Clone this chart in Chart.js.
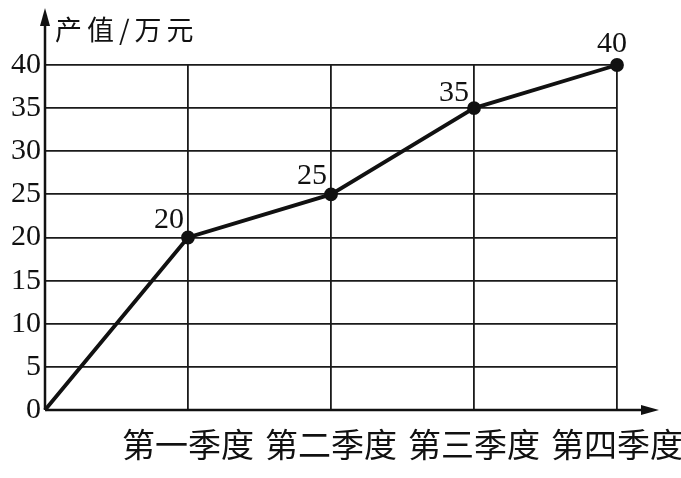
<!DOCTYPE html>
<html>
<head>
<meta charset="utf-8">
<script src="https://cdn.jsdelivr.net/npm/chart.js@4"></script>
<style>
  body { margin: 0; background: #fff; }
  #wrap { width: 681px; height: 478px; }
</style>
</head>
<body>
<div id="wrap"><canvas id="myChart" width="681" height="478"></canvas></div>
<script>
// data
var quarters = ["", "第一季度", "第二季度", "第三季度", "第四季度"];
var output = [0, 20, 25, 35, 40];
var yTicks = [0, 5, 10, 15, 20, 25, 30, 35, 40];
var yTitle = "产值/万元";

var serif = "'Liberation Serif', 'DejaVu Serif', serif";
var cjk = "'Noto Sans CJK SC', sans-serif";

// axes with arrows, title and value labels
var decor = {
  id: "decor",
  afterDatasetsDraw: function (chart) {
    var ctx = chart.ctx;
    var area = chart.chartArea;
    var x0 = area.left, y0 = area.bottom;
    ctx.save();
    ctx.strokeStyle = "#111";
    ctx.fillStyle = "#111";
    ctx.lineWidth = 2.5;
    ctx.beginPath();
    ctx.moveTo(x0, y0);
    ctx.lineTo(x0, 18);
    ctx.moveTo(x0, y0);
    ctx.lineTo(645, y0);
    ctx.stroke();
    // arrow heads
    ctx.beginPath();
    ctx.moveTo(x0, 8);
    ctx.lineTo(x0 - 5, 26);
    ctx.lineTo(x0 + 5, 26);
    ctx.closePath();
    ctx.fill();
    ctx.beginPath();
    ctx.moveTo(659, y0);
    ctx.lineTo(641, y0 - 5);
    ctx.lineTo(641, y0 + 5);
    ctx.closePath();
    ctx.fill();

    // title
    ctx.font = "27px " + cjk;
    ctx.letterSpacing = "5px";
    ctx.textAlign = "left";
    ctx.textBaseline = "middle";
    ctx.fillText(yTitle, 55, 30);
    ctx.letterSpacing = "0px";

    // value labels
    var meta = chart.getDatasetMeta(0);
    var offs = [null, [-19, -17], [-19, -18], [-20, -15], [-5, -21]];
    ctx.font = "30px " + serif;
    ctx.textAlign = "center";
    meta.data.forEach(function (pt, i) {
      if (!offs[i]) return;
      ctx.fillText(String(output[i]), pt.x + offs[i][0], pt.y + offs[i][1]);
    });
    ctx.restore();
  }
};

new Chart("myChart", {
  type: "line",
  data: {
    labels: quarters,
    datasets: [{
      data: output,
      borderColor: "#111",
      borderWidth: 3.8,
      backgroundColor: "#111",
      pointRadius: [0, 5, 5, 5, 5],
      pointBackgroundColor: "#111",
      tension: 0,
      clip: false
    }]
  },
  options: {
    responsive: false,
    animation: false,
    layout: { padding: { top: 65, right: 64, left: 0, bottom: 0 } },
    plugins: { legend: { display: false }, tooltip: { enabled: false } },
    scales: {
      x: {
        offset: false,
        border: { display: false },
        grid: { color: "#1a1a1a", lineWidth: 1.8, drawTicks: false },
        ticks: {
          color: "#111",
          padding: 15,
          maxRotation: 0,
          autoSkip: false,
          font: { family: cjk, size: 33 }
        },
        afterFit: function (s) {
          s.height = 68;
          s.paddingLeft = 0;
          s.paddingRight = 0;
        }
      },
      y: {
        min: 0,
        max: 40,
        border: { display: false },
        grid: { color: "#1a1a1a", lineWidth: 1.8, drawTicks: false },
        afterBuildTicks: function (s) {
          s.ticks = yTicks.map(function (v) { return { value: v }; });
        },
        ticks: {
          color: "#111",
          padding: 4,
          font: { family: serif, size: 30 }
        },
        afterFit: function (s) {
          s.width = 45;
          s.paddingTop = 0;
          s.paddingBottom = 0;
        }
      }
    }
  },
  plugins: [decor]
});
</script>
</body>
</html>
